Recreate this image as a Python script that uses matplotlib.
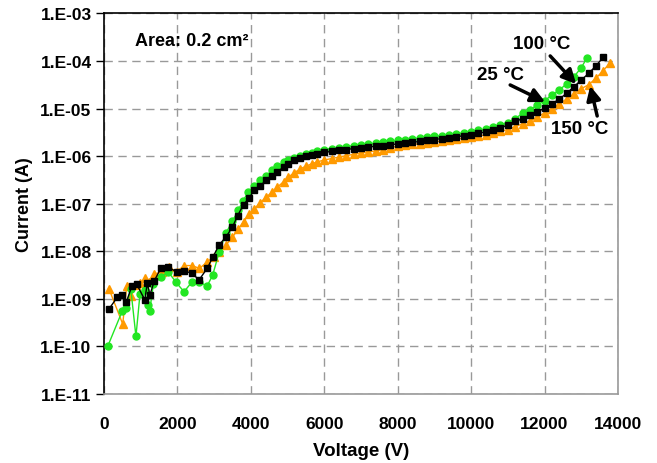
"""
Corriente vs voltaje a distintas temperaturas
"""

import numpy as np
import matplotlib
matplotlib.use("Agg")
import matplotlib.pyplot as plt
from matplotlib.ticker import FixedLocator, FuncFormatter, NullLocator

plt.rcParams["font.family"] = ["Liberation Sans", "DejaVu Sans"]
plt.rcParams["font.weight"] = "bold"

# 25 °C (verde)
v_25 = [100, 500, 600, 730, 870, 980, 1110, 1190, 1245, 1345, 1545, 1750, 1960, 2180,
        2390, 2600, 2810, 2960, 3140, 3320, 3500, 3660, 3780, 3930, 4090, 4250, 4420,
        4570, 4720, 4890, 5020, 5180, 5340, 5500, 5660, 5810,
        6000, 6200, 6400, 6600, 6800, 7000, 7200, 7400, 7600, 7800, 8000, 8200, 8400,
        8600, 8800, 9000, 9200, 9400, 9600, 9800, 10000, 10200, 10400, 10600, 10800,
        11000, 11200, 11400, 11600, 11800, 12000, 12200, 12400, 12600, 12800, 13000, 13150]
log_i_25 = [-10.0, -9.25, -9.2, -8.79, -9.79, -8.90, -8.81, -9.13, -9.25, -8.69, -8.55,
            -8.43, -8.65, -8.85, -8.65, -8.65, -8.73, -8.50, -8.01, -7.62, -7.36, -7.14,
            -6.94, -6.76, -6.62, -6.51, -6.41, -6.30, -6.21, -6.13, -6.09, -6.04, -6.00,
            -5.96, -5.93, -5.90,
            -5.86, -5.84, -5.82, -5.80, -5.78, -5.76, -5.75, -5.73, -5.71, -5.69, -5.67,
            -5.65, -5.64, -5.62, -5.60, -5.58, -5.57, -5.55, -5.53, -5.51, -5.49, -5.46,
            -5.43, -5.39, -5.35, -5.30, -5.21, -5.10, -5.02, -4.93, -4.83, -4.72, -4.61,
            -4.48, -4.33, -4.14, -3.94]

# 100 °C (negro)
v_100 = [136, 360, 490, 610, 760, 890, 1110, 1180, 1250, 1370, 1545, 1750, 1980, 2180,
         2390, 2590, 2810, 2960, 3140, 3320, 3500, 3640, 3800, 3950, 4090, 4250, 4420,
         4570, 4720, 4890, 5020, 5180, 5340, 5500, 5660, 5810,
         6000, 6200, 6400, 6600, 6800, 7000, 7200, 7400, 7600, 7800, 8000, 8200, 8400,
         8600, 8800, 9000, 9200, 9400, 9600, 9800, 10000, 10200, 10400, 10600, 10800,
         11000, 11200, 11400, 11600, 11800, 12000, 12200, 12400, 12600, 12800, 13000,
         13200, 13400, 13600]
log_i_100 = [-9.21, -8.97, -8.92, -9.06, -8.73, -8.69, -9.02, -8.67, -8.92, -8.62, -8.36,
             -8.34, -8.43, -8.41, -8.46, -8.60, -8.36, -8.13, -7.86, -7.70, -7.49, -7.25,
             -7.02, -6.88, -6.72, -6.62, -6.51, -6.41, -6.33, -6.23, -6.16, -6.09, -6.04,
             -6.00, -5.97, -5.95,
             -5.92, -5.90, -5.88, -5.86, -5.84, -5.82, -5.81, -5.79, -5.78, -5.76, -5.74,
             -5.72, -5.71, -5.69, -5.67, -5.65, -5.63, -5.61, -5.59, -5.57, -5.55, -5.52,
             -5.49, -5.45, -5.40, -5.35, -5.27, -5.21, -5.14, -5.07, -4.99, -4.90, -4.80,
             -4.68, -4.54, -4.40, -4.26, -4.10, -3.92]

# 150 °C (naranja)
v_150 = [136, 510, 620, 740, 860, 980, 1120, 1235, 1370, 1570, 1780, 1980, 2180, 2400,
         2600, 2800, 3000, 3140, 3320, 3500, 3650, 3800, 3950, 4090, 4250, 4420, 4570,
         4720, 4890, 5020, 5180, 5340, 5500, 5660, 5810,
         6000, 6200, 6400, 6600, 6800, 7000, 7200, 7400, 7600, 7800, 8000, 8200, 8400,
         8600, 8800, 9000, 9200, 9400, 9600, 9800, 10000, 10200, 10400, 10600, 10800,
         11000, 11200, 11400, 11600, 11800, 12000, 12200, 12400, 12600, 12800, 13000,
         13200, 13400, 13600, 13770]
log_i_150 = [-8.79, -9.53, -8.72, -8.93, -8.71, -8.67, -8.57, -8.64, -8.48, -8.43, -8.34,
             -8.43, -8.30, -8.30, -8.36, -8.23, -8.11, -8.01, -7.87, -7.70, -7.54, -7.38,
             -7.22, -7.11, -6.98, -6.86, -6.76, -6.65, -6.54, -6.44, -6.35, -6.27, -6.21,
             -6.16, -6.12,
             -6.08, -6.05, -6.02, -5.99, -5.96, -5.93, -5.91, -5.89, -5.86, -5.82, -5.79,
             -5.77, -5.75, -5.74, -5.72, -5.70, -5.68, -5.66, -5.64, -5.62, -5.60, -5.58,
             -5.55, -5.51, -5.48, -5.44, -5.38, -5.32, -5.26, -5.18, -5.09, -5.00, -4.90,
             -4.80, -4.69, -4.58, -4.50, -4.36, -4.20, -4.05]

y_ticks = [1e-11, 1e-10, 1e-9, 1e-8, 1e-7, 1e-6, 1e-5, 1e-4, 1e-3]
x_ticks = [0, 2000, 4000, 6000, 8000, 10000, 12000, 14000]

fig = plt.figure(figsize=(6.57, 4.64), dpi=100)
ax = fig.add_axes([0.1583, 0.1487, 0.7823, 0.8201])

ax.plot(v_25, 10 ** np.array(log_i_25), color="#22e622", lw=1, marker="o", ms=5,
        mec="#22e622", zorder=3)
ax.plot(v_100, 10 ** np.array(log_i_100), color="black", lw=1, marker="s", ms=4.5,
        zorder=4)
ax.plot(v_150, 10 ** np.array(log_i_150), color="#ff9a00", lw=1, marker="^", ms=5.5,
        mec="#ff9a00", zorder=2)

ax.set_yscale("log")
ax.set_xlim(0, 14000)
ax.set_ylim(1e-11, 1e-3)
ax.yaxis.set_major_locator(FixedLocator(y_ticks))
ax.yaxis.set_minor_locator(NullLocator())
ax.yaxis.set_major_formatter(FuncFormatter(lambda v, p: "1.E-%02d" % -int(round(np.log10(v)))))
ax.xaxis.set_major_locator(FixedLocator(x_ticks))

ax.grid(True, color="#999999", ls=(0, (6, 4)), lw=1)
ax.tick_params(axis="y", direction="out", length=6, width=1, labelsize=12.5, pad=3)
ax.tick_params(axis="x", length=0, labelsize=12.5, pad=16)

for s in ["left", "top"]:
    ax.spines[s].set_color("black")
    ax.spines[s].set_linewidth(1.2)
for s in ["bottom", "right"]:
    ax.spines[s].set_color("#999999")
    ax.spines[s].set_linewidth(1.2)

ax.set_xlabel("Voltage (V)", fontsize=13.5, fontweight="bold", labelpad=8)
ax.set_ylabel("Current (A)", fontsize=13, fontweight="bold", labelpad=5)

ax.text(0.06, 0.928, "Area: 0.2 cm²", transform=ax.transAxes, fontsize=13,
        fontweight="bold", va="center", ha="left")

# etiquetas y flechas
arrow = dict(arrowstyle="-|>,head_length=0.6,head_width=0.3", color="black", lw=2.5,
             mutation_scale=14, shrinkA=0, shrinkB=0)
ax.text(11920, 10 ** -3.64, "100 °C", fontsize=13.5, fontweight="bold", ha="center", va="center")
ax.text(10790, 10 ** -4.28, "25 °C", fontsize=13.5, fontweight="bold", ha="center", va="center")
ax.text(12945, 10 ** -5.41, "150 °C", fontsize=13.5, fontweight="bold", ha="center", va="center")
ax.annotate("", xy=(12862, 10 ** -4.483), xytext=(12154, 10 ** -3.893), arrowprops=arrow)
ax.annotate("", xy=(12017, 10 ** -4.860), xytext=(11064, 10 ** -4.503), arrowprops=arrow)
ax.annotate("", xy=(13244, 10 ** -4.524), xytext=(13434, 10 ** -5.155), arrowprops=arrow)

plt.savefig("out.png", dpi=100)
